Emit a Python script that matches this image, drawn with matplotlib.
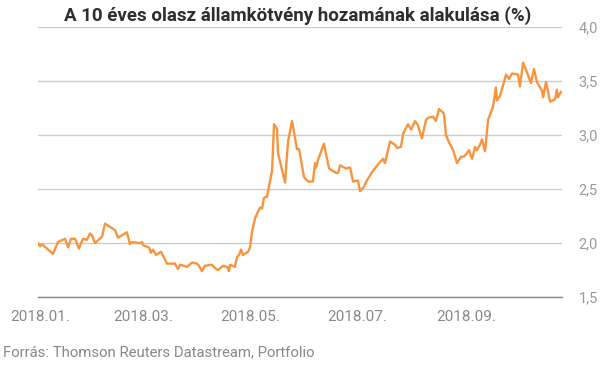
import pandas as pd
import matplotlib.pyplot as plt

plt.rcParams["font.family"] = ["Roboto", "DejaVu Sans"]

# days since 2018-01-01 and yield (%)
days = [
    -1.1, 0, 1.1, 7.4, 10.3, 14.3, 16.0, 17.7, 20.0, 22.2, 24.5, 26.8, 28.5, 29.7,
    31.4, 35.4, 37.1, 42.8, 44.5, 49.6, 51.3, 52.5, 57.1, 58.2, 58.8, 62.2, 63.3,
    64.5, 66.2, 69.0, 72.5, 77.0, 78.7, 79.9, 83.9, 86.7, 89.6, 90.7, 92.4, 94.1,
    98.1, 99.8, 101.5, 104.4, 106.7, 107.8, 108.4, 111.2, 112.4, 113.5, 114.7,
    115.8, 118.7, 119.8, 120.9, 122.7, 125.5, 126.7, 127.8, 129.5, 132.4, 133.5,
    135.2, 135.8, 139.8, 141.5, 143.8, 146.6, 147.8, 150.6, 152.9, 155.7, 156.9,
    157.5, 158.6, 162.0, 164.9, 168.9, 170.0, 171.2, 174.6, 176.9, 178.6, 181.4,
    182.6, 184.8, 186.5, 190.0, 194.0, 195.7, 196.8, 199.7, 202.5, 203.7, 205.9,
    207.1, 209.9, 211.7, 214.0, 215.6, 217.9, 220.2, 221.4, 224.2, 225.9, 227.6,
    229.9, 230.5, 231.6, 233.4, 235.7, 237.9, 240.2, 241.9, 244.8, 246.5, 248.2,
    249.3, 251.0, 252.2, 253.9, 255.6, 258.4, 260.1, 260.7, 262.4, 265.9, 267.6,
    269.3, 272.7, 273.8, 275.6, 277.8, 280.1, 281.8, 283.5, 286.4, 287.0, 288.7,
    291.0, 293.8, 294.9, 295.5, 297.2,
]
yields = [
    2.00, 1.97, 1.99, 1.90, 2.01, 2.04, 1.96, 2.04, 2.04, 1.95, 2.04, 2.03, 2.09, 2.07,
    2.00, 2.06, 2.18, 2.12, 2.05, 2.10, 1.99, 2.01, 2.00, 2.01, 1.98, 1.96, 1.91,
    1.94, 1.89, 1.92, 1.81, 1.81, 1.76, 1.80, 1.78, 1.82, 1.81, 1.79, 1.74, 1.79,
    1.80, 1.77, 1.75, 1.79, 1.78, 1.74, 1.80, 1.78, 1.87, 1.89, 1.94,
    1.89, 1.92, 1.96, 2.10, 2.23, 2.33, 2.32, 2.42, 2.43, 2.67, 3.10,
    3.06, 2.83, 2.56, 2.94, 3.13, 2.87, 2.87, 2.61, 2.57, 2.57, 2.74,
    2.70, 2.77, 2.92, 2.69, 2.65, 2.65, 2.72, 2.69, 2.70, 2.57, 2.58,
    2.48, 2.52, 2.58, 2.67, 2.75, 2.78, 2.74, 2.94, 2.91, 2.88, 2.89,
    3.01, 3.10, 3.05, 3.13, 3.09, 2.97, 3.14, 3.16, 3.17, 3.13, 3.24,
    3.21, 3.19, 3.00, 2.93, 2.86, 2.74, 2.80, 2.80, 2.86, 2.78, 2.89,
    2.86, 2.91, 2.96, 2.85, 3.14, 3.26, 3.44, 3.32, 3.36, 3.56, 3.52,
    3.57, 3.56, 3.45, 3.67, 3.58, 3.48, 3.61, 3.49, 3.41, 3.35, 3.49,
    3.31, 3.33, 3.42, 3.35, 3.40,
]

tick_dates = ["2018-01-01", "2018-03-01", "2018-05-01", "2018-07-01", "2018-09-01"]
tick_labels = ["2018.01.", "2018.03.", "2018.05.", "2018.07.", "2018.09."]
y_ticks = [1.5, 2.0, 2.5, 3.0, 3.5, 4.0]

start = pd.Timestamp("2018-01-01")
dates = start + pd.to_timedelta(days, unit="D")

fig = plt.figure(figsize=(6.12, 3.70), dpi=100)
ax = fig.add_axes([0.0621, 0.197, 0.8562, 0.730])

ax.plot(dates, yields, color="#F7953F", lw=1.7, solid_joinstyle="round")

ax.set_xlim(start + pd.Timedelta(days=-1.14), start + pd.Timedelta(days=297.8))
ax.set_ylim(1.5, 4.0)

ax.set_yticks(y_ticks)
ax.set_yticklabels([f"{v:.1f}".replace(".", ",") for v in y_ticks])
ax.yaxis.tick_right()
ax.set_xticks(pd.to_datetime(tick_dates))
ax.set_xticklabels(tick_labels)
ax.tick_params(axis="y", length=0, pad=12, labelsize=10.5, labelcolor="#999999")
ax.tick_params(axis="x", length=0, pad=9, labelsize=11, labelcolor="#888888")

ax.grid(axis="y", color="#cccccc", lw=1)
ax.set_axisbelow(True)
for s in ["top", "left", "right"]:
    ax.spines[s].set_visible(False)
ax.spines["bottom"].set_color("#888888")
ax.spines["bottom"].set_linewidth(1)

fig.text(0.487, 0.957, "A 10 éves olasz államkötvény hozamának alakulása (%)",
         ha="center", va="center", fontsize=13.5, fontweight="bold", color="#2e2e2e")
fig.text(0.005, 0.048, "Forrás: Thomson Reuters Datastream, Portfolio",
         ha="left", va="center", fontsize=10.7, color="#888888")

fig.savefig("out.png", dpi=100)
